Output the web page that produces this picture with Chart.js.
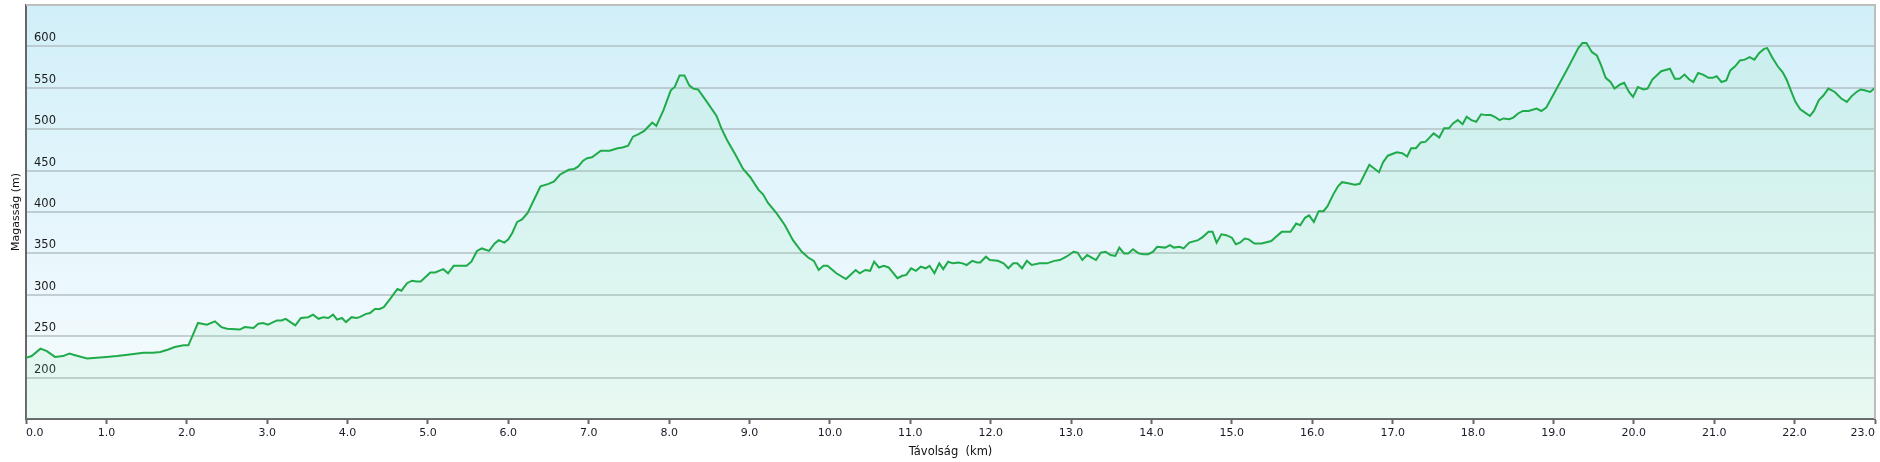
<!DOCTYPE html>
<html>
<head>
<meta charset="utf-8">
<script src="https://cdn.jsdelivr.net/npm/chart.js@4.4.1/dist/chart.umd.min.js"></script>
<style>
    html, body { margin: 0; padding: 0; background: #ffffff; }
    #wrap { width: 1880px; height: 462px; position: relative; }
</style>
</head>
<body>
<div id="wrap"><canvas id="elevation_chart"></canvas></div>
<script>
// distance along the track (km)
const distances = [
    0.00, 0.07, 0.18, 0.26, 0.36, 0.46, 0.54, 0.61, 0.76, 0.88,
    1.00, 1.13, 1.21, 1.29, 1.46, 1.58, 1.67, 1.77, 1.85, 1.96,
    2.02, 2.14, 2.25, 2.35, 2.43, 2.50, 2.66, 2.72, 2.83, 2.89, 2.95,
    3.01, 3.12, 3.18, 3.23, 3.29, 3.35, 3.42, 3.51, 3.57, 3.64, 3.70, 3.76, 3.82, 3.87, 3.93, 3.98,
    4.05, 4.11, 4.15, 4.23, 4.28, 4.34, 4.40, 4.45, 4.53, 4.62, 4.67, 4.74, 4.80, 4.86, 4.91,
    5.03, 5.09, 5.19, 5.25, 5.32, 5.48, 5.54, 5.61, 5.67, 5.76, 5.83, 5.88, 5.95,
    6.00, 6.05, 6.11, 6.17, 6.24, 6.31, 6.40, 6.50, 6.57, 6.64, 6.75, 6.82, 6.87, 6.93, 6.98,
    7.04, 7.15, 7.26, 7.36, 7.42, 7.49, 7.55, 7.62, 7.69, 7.74, 7.79, 7.84, 7.93,
    8.02, 8.07, 8.13, 8.19, 8.25, 8.30, 8.36, 8.47, 8.59, 8.65, 8.72, 8.82, 8.92,
    9.01, 9.11, 9.17, 9.23, 9.34, 9.44, 9.54, 9.65, 9.73, 9.80, 9.86, 9.92, 9.97,
    10.08, 10.20, 10.32, 10.37, 10.44, 10.50, 10.55, 10.61, 10.67, 10.73, 10.84, 10.90, 10.95,
    11.01, 11.07, 11.13, 11.19, 11.24, 11.30, 11.36, 11.41, 11.47, 11.53, 11.60, 11.65, 11.70, 11.77, 11.83, 11.87, 11.94, 11.99,
    12.09, 12.16, 12.22, 12.28, 12.33, 12.39, 12.45, 12.51, 12.61, 12.70, 12.79, 12.86, 12.94,
    13.03, 13.08, 13.14, 13.20, 13.31, 13.37, 13.43, 13.49, 13.55, 13.60, 13.66, 13.71, 13.77, 13.84, 13.90, 13.96,
    14.02, 14.07, 14.17, 14.23, 14.28, 14.35, 14.40, 14.47, 14.58, 14.64, 14.71, 14.76, 14.81, 14.87, 14.93,
    15.00, 15.05, 15.10, 15.16, 15.21, 15.28, 15.37, 15.49, 15.56, 15.62, 15.73, 15.80, 15.85, 15.91, 15.96,
    16.02, 16.08, 16.14, 16.19, 16.26, 16.32, 16.37, 16.43, 16.53, 16.59, 16.71, 16.83, 16.88, 16.94,
    17.05, 17.12, 17.18, 17.23, 17.29, 17.35, 17.41, 17.51, 17.58, 17.64, 17.70, 17.75, 17.81, 17.87, 17.92, 17.98,
    18.04, 18.10, 18.16, 18.22, 18.27, 18.33, 18.38, 18.45, 18.50, 18.56, 18.62, 18.69, 18.79, 18.85, 18.91, 18.99,
    19.08, 19.18, 19.31, 19.36, 19.41, 19.48, 19.54, 19.59, 19.65, 19.71, 19.76, 19.83, 19.88, 19.94, 19.99,
    20.05, 20.12, 20.17, 20.23, 20.34, 20.45, 20.51, 20.57, 20.63, 20.69, 20.74, 20.80, 20.86, 20.93, 20.98,
    21.03, 21.09, 21.15, 21.20, 21.26, 21.32, 21.38, 21.44, 21.50, 21.56, 21.62, 21.66, 21.72, 21.79, 21.85, 21.90, 21.96,
    22.01, 22.07, 22.13, 22.19, 22.24, 22.30, 22.36, 22.42, 22.50, 22.58, 22.65, 22.71, 22.77, 22.82, 22.87, 22.94,
    23.00
];

// elevation (m)
const elevations = [
    224, 226, 235, 232, 225, 226, 229, 227, 223, 224,
    225, 226, 227, 228, 230, 230, 231, 234, 237, 239,
    239, 266, 264, 268, 261, 259, 258, 261, 260, 265, 266,
    264, 269, 269, 271, 267, 263, 272, 273, 276, 271, 273, 272, 276, 270, 272, 267,
    273, 272, 273, 277, 278, 283, 283, 285, 295, 307, 305, 314, 317, 316, 316,
    327, 327, 331, 326, 335, 335, 340, 353, 356, 353, 362, 366, 363,
    367, 375, 388, 391, 399, 413, 431, 434, 437, 445, 451, 452, 455, 462, 465,
    466, 474, 474, 477, 478, 480, 491, 494, 498, 503, 508, 504, 523,
    547, 551, 565, 565, 553, 549, 548, 533, 516, 501, 487, 470, 452,
    442, 427, 421, 411, 398, 384, 366, 352, 345, 341, 330, 335, 335,
    326, 319, 330, 326, 330, 329, 340, 333, 335, 333, 320, 323, 324,
    332, 329, 334, 332, 335, 326, 338, 331, 340, 338, 339, 338, 336, 341, 339, 339, 346, 342,
    341, 338, 332, 338, 338, 332, 341, 336, 338, 338, 341, 342, 346,
    352, 351, 342, 348, 342, 351, 352, 348, 347, 357, 350, 350, 355, 350, 349, 349,
    352, 358, 357, 360, 357, 358, 356, 363, 366, 370, 376, 376, 363, 373, 372,
    369, 361, 363, 368, 367, 362, 362, 365, 371, 376, 376, 386, 384, 393, 396,
    388, 401, 401, 407, 421, 431, 436, 435, 433, 434, 457, 448, 460, 468,
    472, 471, 467, 477, 477, 484, 485, 495, 490, 501, 501, 507, 511, 506, 515, 511,
    509, 518, 517, 517, 515, 511, 513, 512, 514, 519, 522, 522, 525, 522, 526, 540,
    556, 574, 598, 604, 604, 593, 589, 578, 562, 557, 549, 554, 556, 545, 539,
    551, 548, 549, 560, 570, 573, 561, 561, 566, 560, 557, 568, 566, 562, 562,
    564, 557, 559, 571, 576, 583, 584, 587, 584, 592, 597, 598, 587, 576, 569, 560, 545,
    533, 524, 520, 516, 522, 535, 541, 549, 545, 537, 533, 540, 545, 548, 547, 545,
    550
];

const yTickLabels = [200, 250, 300, 350, 400, 450, 500, 550, 600];
const xTitle = 'Távolság  (km)';
const yTitle = 'Magasság (m)';

const fontFamily = '"DejaVu Sans", Verdana, sans-serif';

// background and the light frame round the plot area
const plotFrame = {
    id: 'plotFrame',
    beforeDraw(chart) {
        const {ctx, chartArea: a} = chart;
        const g = ctx.createLinearGradient(0, a.top, 0, a.bottom);
        g.addColorStop(0, '#d1eff9');
        g.addColorStop(1, '#f8fcfe');
        ctx.save();
        ctx.fillStyle = g;
        ctx.fillRect(a.left, a.top, a.right - a.left, a.bottom - a.top);
        ctx.restore();
    },
    afterDraw(chart) {
        const {ctx, chartArea: a} = chart;
        ctx.save();
        ctx.strokeStyle = '#bdbdbd';
        ctx.lineWidth = 2;
        ctx.beginPath();
        ctx.moveTo(a.left, a.top);
        ctx.lineTo(a.right, a.top);
        ctx.lineTo(a.right, a.bottom);
        ctx.stroke();
        ctx.restore();
    }
};

(function elevation_chart()
{
    const el = document.getElementById('elevation_chart');
    const myChart = new Chart(el, {
        type: 'line',
        data: {
            datasets: [{
                data: distances.map((d, i) => ({x: d, y: elevations[i]})),
                borderColor: '#1fab4a',
                borderWidth: 2,
                pointRadius: 0,
                tension: 0,
                fill: 'start',
                backgroundColor: 'rgba(130, 235, 165, 0.13)',
            }]
        },
        options: {
            responsive: true,
            maintainAspectRatio: false,
            animation: false,
            layout: { padding: { left: 0, right: 5, top: 5, bottom: 0 } },
            plugins: {
                legend: { display: false },
                tooltip: { enabled: false }
            },
            scales: {
                x: {
                    type: 'linear',
                    min: 0,
                    max: 23,
                    afterFit: (s) => { s.height = 43; s.paddingLeft = 0; s.paddingRight = 0; },
                    border: { color: '#666666', width: 2 },
                    grid: { drawOnChartArea: false, drawTicks: true, tickLength: 5, tickColor: '#666666', tickWidth: 2 },
                    ticks: {
                        stepSize: 1,
                        align: 'inner',
                        padding: 3,
                        maxRotation: 0,
                        autoSkip: false,
                        color: '#1a1a2a',
                        font: { family: fontFamily, size: 11 },
                        callback: (v) => Number(v).toFixed(1)
                    },
                    title: {
                        display: true,
                        text: xTitle,
                        color: '#111111',
                        font: { family: fontFamily, size: 11.5 },
                        padding: { top: 0, bottom: 3 }
                    }
                },
                y: {
                    min: 150,
                    max: 650,
                    afterFit: (s) => { s.width = 26; s.paddingTop = 0; s.paddingBottom = 0; },
                    border: { color: '#666666', width: 2 },
                    grid: {
                        drawTicks: false,
                        lineWidth: 2,
                        color: (c) => yTickLabels.includes(c.tick.value) ? 'rgba(175, 188, 193, 0.7)' : 'rgba(0,0,0,0)'
                    },
                    ticks: {
                        stepSize: 50,
                        mirror: true,
                        padding: 8,
                        labelOffset: -8,
                        color: '#1a1a1a',
                        font: { family: fontFamily, size: 11.5 },
                        callback: (v) => yTickLabels.includes(v) ? String(v) : ''
                    },
                    title: {
                        display: true,
                        text: yTitle,
                        color: '#111111',
                        font: { family: fontFamily, size: 11 },
                        padding: { top: 10, bottom: 0 }
                    }
                }
            }
        },
        plugins: [plotFrame]
    });
})();
</script>
</body>
</html>
